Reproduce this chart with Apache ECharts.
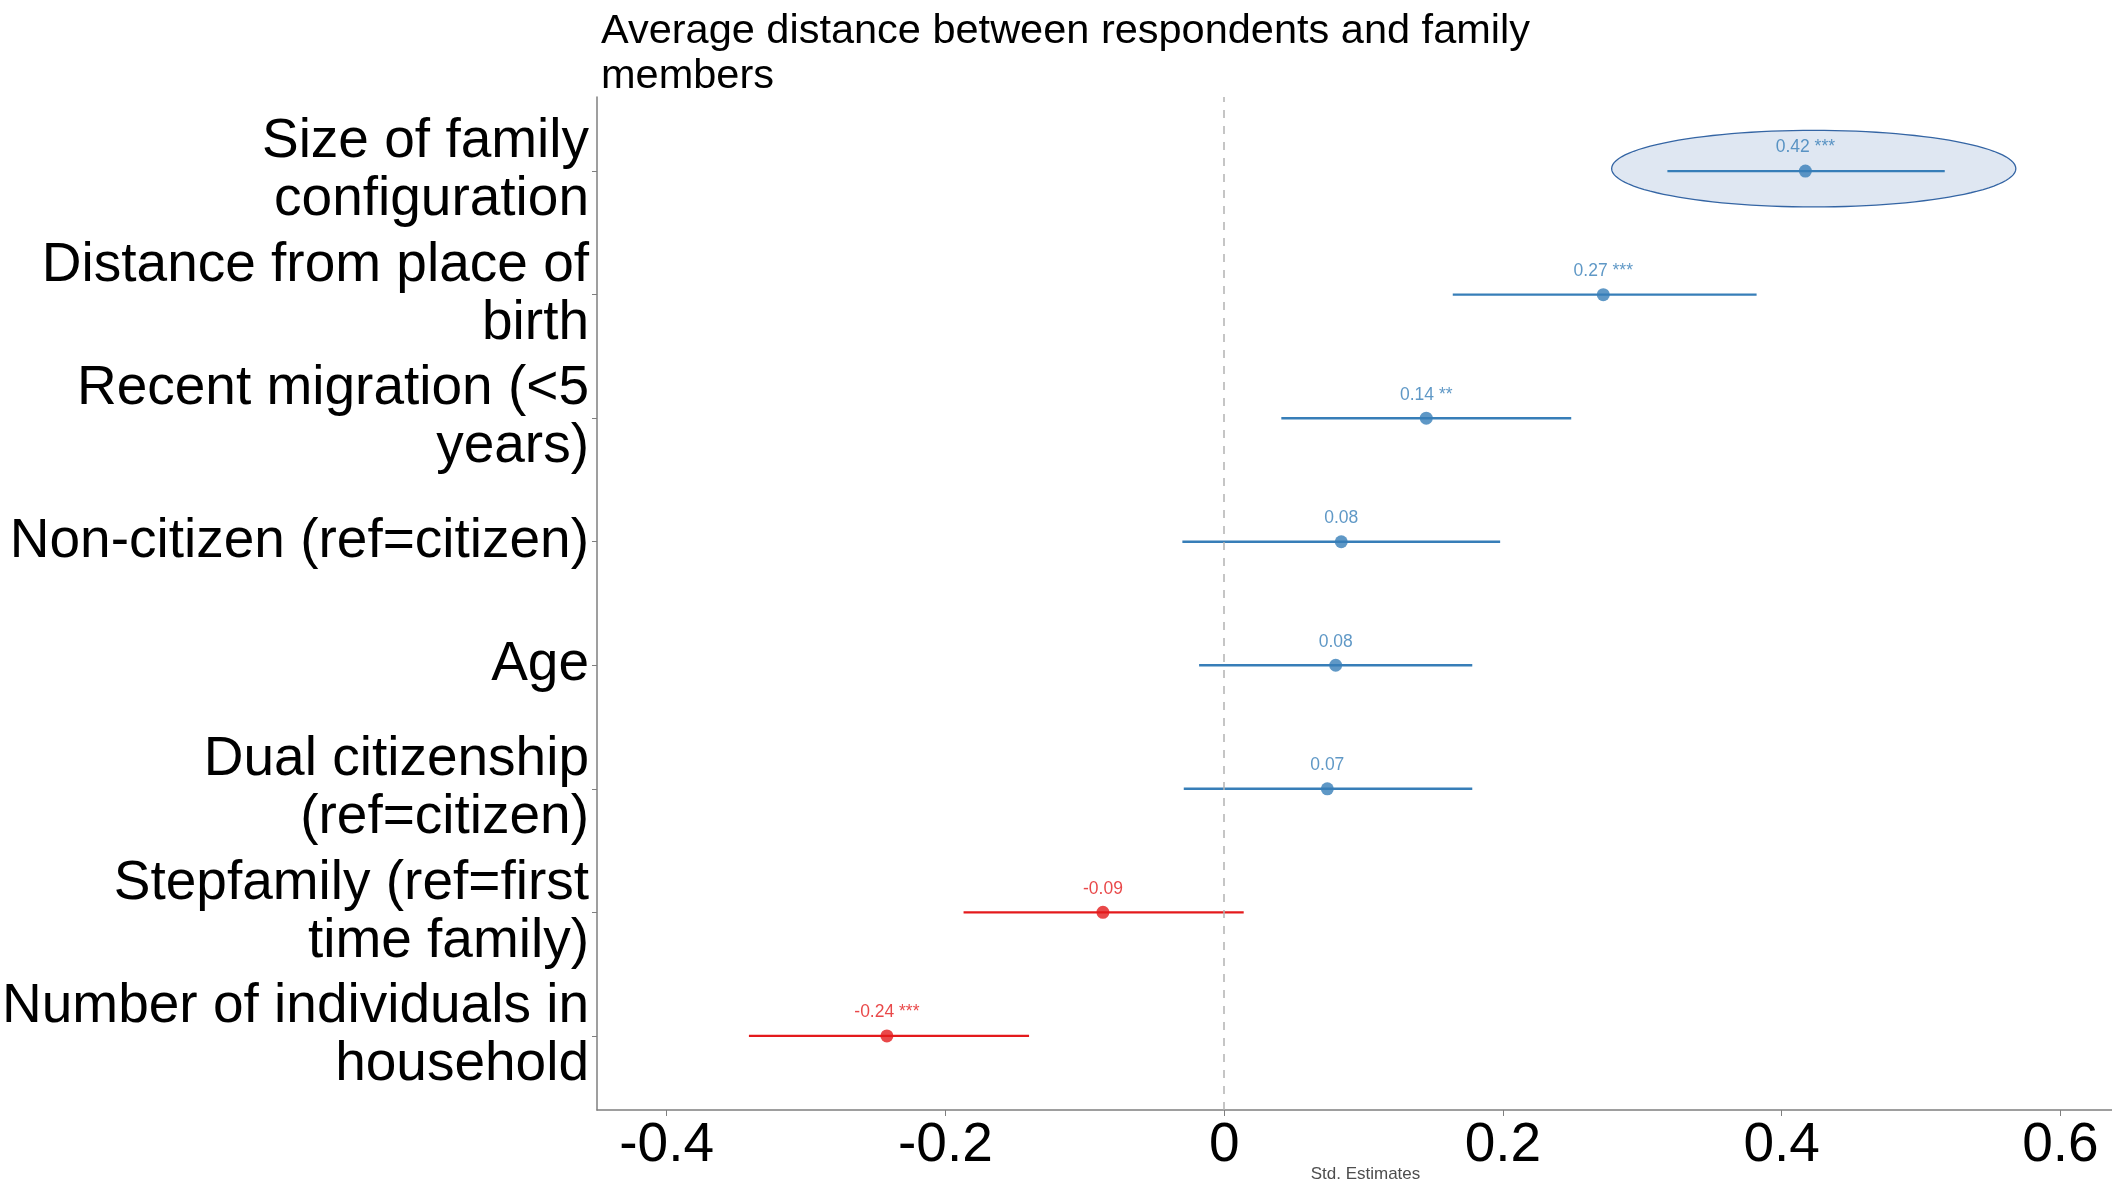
<!DOCTYPE html>
<html lang="en">

<head>
  <meta charset="UTF-8" />
  <title>Std. Estimates</title>
  <script src="https://cdn.jsdelivr.net/npm/echarts@6/dist/echarts.min.js"></script>
  <style>
    html, body { margin: 0; padding: 0; background: #fff; }
  </style>
</head>

<body>
  <div id="main" style="width: 2112px;height:1187px;"></div>
  <script type="text/javascript">
    // rows, top to bottom
    var terms = [
      'Size of family\nconfiguration',
      'Distance from place of\nbirth',
      'Recent migration (<5\nyears)',
      'Non-citizen (ref=citizen)',
      'Age',
      'Dual citizenship\n(ref=citizen)',
      'Stepfamily (ref=first\ntime family)',
      'Number of individuals in\nhousehold'
    ]
    var estimates = [0.417, 0.272, 0.145, 0.084, 0.080, 0.074, -0.087, -0.242]
    var ciLow = [0.318, 0.164, 0.041, -0.030, -0.018, -0.029, -0.187, -0.341]
    var ciHigh = [0.517, 0.382, 0.249, 0.198, 0.178, 0.178, 0.014, -0.140]
    var labels = ['0.42 ***', '0.27 ***', '0.14 **', '0.08', '0.08', '0.07', '-0.09', '-0.24 ***']
    var xTicks = [-0.4, -0.2, 0, 0.2, 0.4, 0.6]
    // highlight ellipse around first row: [xCenter, row, xRadius, rowRadius]
    var highlight = [0.423, 0, 0.145, 0.31]

    var blue = '#377eb8'
    var red = '#e41a1c'
    var font = 'Liberation Sans, Arial, Helvetica, sans-serif'
    var n = terms.length

    // y position: top row gets the highest value
    function rowY(i) { return n - i }
    var rowTicks = terms.map(function (t, i) { return rowY(i) })

    var rows = terms.map(function (t, i) {
      return [ciLow[i], ciHigh[i], rowY(i), estimates[i], labels[i]]
    })

    var myChart = echarts.init(document.getElementById('main'))

    var option = {
      backgroundColor: '#fff',
      animation: false,
      title: {
        text: 'Average distance between respondents and family\nmembers',
        left: 596,
        top: 4,
        textStyle: { fontFamily: font, fontSize: 41.5, fontWeight: 'normal', color: '#000', lineHeight: 45 }
      },
      grid: { left: 597, right: 0, top: 97, bottom: 77, containLabel: false, outerBoundsMode: 'none' },
      xAxis: {
        type: 'value',
        min: -0.45,
        max: 0.637,
        name: 'Std. Estimates',
        nameLocation: 'middle',
        nameGap: 56,
        nameMoveOverlap: false,
        nameTextStyle: { fontFamily: font, fontSize: 17, color: '#4d4d4d', padding: [0, 0, 0, 22] },
        splitLine: { show: false },
        axisLine: { show: true, onZero: false, lineStyle: { color: '#7f7f7f', width: 1.5 } },
        axisTick: { show: true, length: 6, customValues: xTicks, lineStyle: { color: '#7f7f7f' } },
        axisLabel: {
          customValues: xTicks,
          margin: 8,
          fontFamily: font,
          fontSize: 55,
          color: '#000',
          formatter: function (v) { return v === 0 ? '0' : String(+v.toFixed(1)) }
        }
      },
      yAxis: {
        type: 'value',
        min: 0.4,
        max: n + 0.6,
        splitLine: { show: false },
        axisLine: { show: true, onZero: false, lineStyle: { color: '#7f7f7f', width: 1.5 } },
        axisTick: { show: true, length: 5, customValues: rowTicks, lineStyle: { color: '#7f7f7f' } },
        axisLabel: {
          customValues: rowTicks,
          margin: 8,
          fontFamily: font,
          fontSize: 55,
          lineHeight: 58,
          color: '#000',
          align: 'right',
          formatter: function (v) { return terms[n - Math.round(v)] }
        }
      },
      series: [
        {
          // highlight ellipse
          type: 'custom',
          z: 1,
          data: [highlight],
          renderItem: function (params, api) {
            var cy = rowY(api.value(1)) + 0.02
            var c = api.coord([api.value(0), cy])
            var ex = api.coord([api.value(0) + api.value(2), cy])
            var ey = api.coord([api.value(0), cy + api.value(3)])
            var rx = Math.abs(ex[0] - c[0])
            var ry = Math.abs(ey[1] - c[1])
            var pts = []
            for (var k = 0; k < 120; k++) {
              var a = k / 120 * Math.PI * 2
              pts.push([c[0] + rx * Math.cos(a), c[1] + ry * Math.sin(a)])
            }
            return {
              type: 'polygon',
              shape: { points: pts },
              style: { fill: '#dfe7f2', stroke: '#3465a4', lineWidth: 1.3 }
            }
          }
        },
        {
          // zero reference line
          type: 'line',
          data: [],
          markLine: {
            silent: true,
            symbol: 'none',
            label: { show: false },
            lineStyle: { color: '#b3b3b3', type: [8, 8], width: 1.5 },
            data: [{ xAxis: 0 }]
          }
        },
        {
          // confidence intervals
          type: 'custom',
          z: 3,
          data: rows,
          renderItem: function (params, api) {
            var a = api.coord([api.value(0), api.value(2)])
            var b = api.coord([api.value(1), api.value(2)])
            return {
              type: 'line',
              shape: { x1: a[0], y1: a[1], x2: b[0], y2: b[1] },
              style: { stroke: api.value(3) < 0 ? red : blue, lineWidth: 2.4 }
            }
          }
        },
        {
          // point estimates with labels
          type: 'scatter',
          z: 4,
          symbolSize: 13,
          data: rows.map(function (r) {
            var col = r[3] < 0 ? red : blue
            return {
              value: [r[3], r[2]],
              itemStyle: { color: col },
              label: {
                show: true,
                position: 'top',
                distance: 8,
                formatter: r[4],
                fontFamily: font,
                fontSize: 17.5,
                color: col
              }
            }
          })
        }
      ]
    }

    myChart.setOption(option)
  </script>
</body>

</html>
